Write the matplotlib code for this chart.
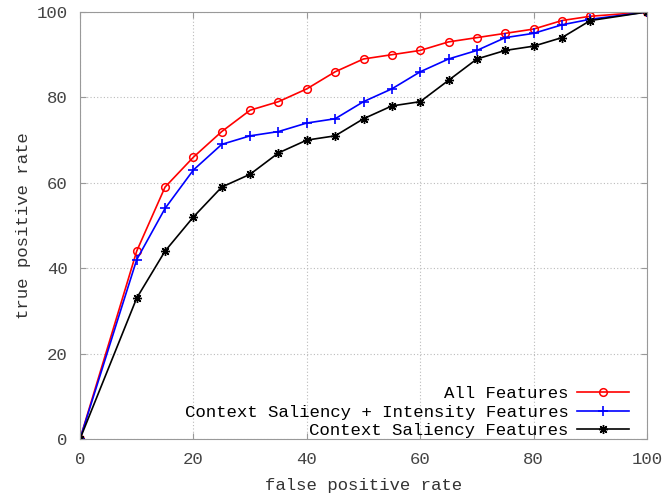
import matplotlib
matplotlib.use('Agg')
from matplotlib import pyplot as plt

fpr = [0, 10, 15, 20, 25, 30, 35, 40, 45, 50, 55, 60, 65, 70, 75, 80, 85, 90, 100]
all_feat = [0, 44, 59, 66, 72, 77, 79, 82, 86, 89, 90, 91, 93, 94, 95, 96, 98, 99, 100]
ctx_int = [0, 42, 54, 63, 69, 71, 72, 74, 75, 79, 82, 86, 89, 91, 94, 95, 97, 98.3, 100]
ctx_only = [0, 33, 44, 52, 59, 62, 67, 70, 71, 75, 78, 79, 84, 89, 91, 92, 94, 98, 100]

plt.rcParams['font.family'] = ['Liberation Mono', 'DejaVu Sans Mono']

fig = plt.figure(dpi=100, figsize=(6.63, 4.95))
ax = fig.add_axes([80 / 663, 1 - 439 / 495, 567 / 663, 427 / 495])

ax.plot(fpr, all_feat, c='red', lw=1.2, marker='o', ms=5.5, mfc='none', mew=1.1,
        label='All Features')
ax.plot(fpr, ctx_int, c='blue', lw=1.2, marker='+', ms=6.5, mew=1.2,
        label='Context Saliency + Intensity Features')
ax.plot(fpr, ctx_only, c='black', lw=1.2, marker=(8, 2, 0), ms=6.5, mew=1.0,
        label='Context Saliency Features')

ax.set_xlim(0, 100)
ax.set_ylim(0, 100)
ax.set_xticks(range(0, 101, 20))
ax.set_yticks(range(0, 101, 20))
ax.grid(True, ls=(0, (1, 2)), c='#bbbbbb', lw=0.8)
ax.tick_params(direction='in', top=True, right=True, length=4, labelsize=12.5,
               colors='#999999', labelcolor='#444444', pad=9)
for s in ax.spines.values():
    s.set_color('#999999')

ax.set_xlabel('false positive rate', fontsize=12.5, color='#333333', labelpad=8)
ax.set_ylabel('true positive rate', fontsize=12.5, color='#333333', labelpad=4)

ax.legend(loc='lower right', bbox_to_anchor=(0.993, -0.031), frameon=False,
          markerfirst=False, fontsize=12.5, handlelength=3.0, handletextpad=0.5,
          labelspacing=0.2, borderpad=0.3)

plt.savefig('out.png', dpi=100)
